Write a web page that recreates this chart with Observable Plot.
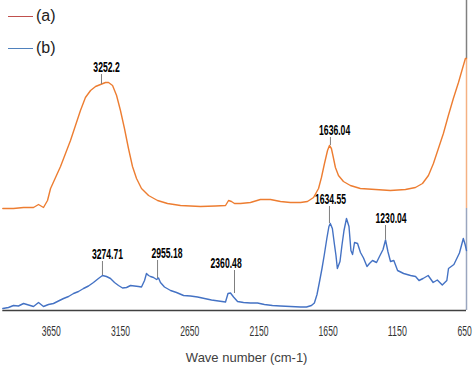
<!DOCTYPE html>
<html><head><meta charset="utf-8">
<script src="https://cdn.jsdelivr.net/npm/d3@7"></script>
<script src="https://cdn.jsdelivr.net/npm/@observablehq/plot@0.6"></script>
<style>
body{margin:0;background:#fff;}
#wrap{position:relative;width:474px;height:372px;overflow:hidden;}
.lg{position:absolute;left:8px;font-family:"Liberation Sans",Arial,sans-serif;font-size:16px;color:#222;display:flex;align-items:center;height:20px;}
.lg i{display:inline-block;width:25px;height:0;border-top:1.3px solid;margin-right:3px;}
</style></head>
<body><div id="wrap"></div>
<script>
const seriesNames = ["(a)", "(b)"];
const seriesColors = ["#ED7D31", "#4472C4"];
const legendColors = ["#C0504D", "#4F81BD"];

const waveA = [4000,3923,3850,3778,3742,3706,3677,3655,3619,3583,3547,3511,3475,3439,3403,3366,3330,3294,3258,3236,3207,3178,3150,3121,3092,3063,3034,2998,2947,2882,2810,2716,2572,2463,2391,2369,2348,2326,2283,2211,2139,2066,1994,1922,1849,1799,1755,1719,1698,1676,1654,1640,1626,1612,1597,1575,1539,1489,1417,1308,1200,1091,1019,968,925,889,853,817,781,745,708,679,658,650];
const absA = [102,102,103,103,106,103,110,122,133,144,157,170,185,200,213,220,224,226,228,228,225,215,200,182,162,144,132,122,115,110,107,105,104,104.5,105,110,109,107,107,108,111,111,109,108,108,109,113,122,133,147,160,165,162,153,143,135,129,125,122,121,120,121,123,127,135,147,162,177,195,212,228,242,252,252];

const waveB = [4000,3959,3923,3887,3850,3814,3778,3742,3706,3670,3634,3598,3561,3525,3489,3453,3417,3381,3345,3309,3280,3251,3222,3193,3164,3135,3106,3077,3049,3020,2998,2976,2962,2947,2933,2911,2889,2875,2861,2832,2788,2745,2694,2644,2593,2543,2492,2442,2391,2373,2355,2333,2304,2261,2211,2160,2110,2052,1994,1922,1849,1806,1770,1749,1730,1713,1694,1677,1659,1644,1634,1619,1605,1593,1583,1564,1550,1535,1517,1499,1485,1473,1459,1437,1416,1394,1369,1351,1329,1300,1275,1253,1235,1217,1199,1175,1148,1104,1054,1018,993,964,927,891,861,825,792,780,741,701,673,660,650];
const absB = [2,3,5,4.5,7,5.5,4,8,4,6,7,9.5,12,14,17,19,22,24.5,28,32,35,34,32,28,25,22.5,23,25,24.5,24,23.5,30,37,35,34,33,31,32.5,28,23.5,20,18,15,14.5,13.5,12,10.5,9.5,8.5,17,17.5,13.5,9,8,7.5,7.5,6,5,4.5,4,3.5,3.5,5,7.5,16,28,42,56,72,84,87,82,67,55,42,49,65,80,92,84,60,56,68,67,58,52.5,44,47,50,48,55,61,70.5,58.5,49,50,40,37,35,34,30,32,35,28,30.5,25.5,30,42,46,57.5,72,66,60];

const peakText = ["3252.2","1636.04","3274.71","2955.18","2360.48","1634.55","1230.04"];
const peakTickWave = [3287,1633,3280,2882,2326,1640,1235];
const peakTickBase = [226,165,35,32,17,87,70.5];
const peakLabelWave = [3251,1603,3244,2814,2387,1633,1195];
const peakLabelLevel = [243,180,56,57,47,111,92];

const xTicks = [3650,3150,2650,2150,1650,1150,650];
const xTitle = "Wave number (cm-1)";

const dataA = waveA.map((w,i)=>({w, v:absA[i]}));
const dataB = waveB.map((w,i)=>({w, v:absB[i]}));
const peaks = peakText.map((t,i)=>({t, tw:peakTickWave[i], base:peakTickBase[i], lw:peakLabelWave[i], lv:peakLabelLevel[i]}));
const endA = dataA[dataA.length-1], startA = dataA[0];

const narrow = "'Liberation Sans Narrow','Arial Narrow','Liberation Sans',sans-serif";

const chart = Plot.plot({
  width: 474, height: 372,
  marginLeft: 2.3, marginRight: 8, marginTop: 0, marginBottom: 62,
  style: {background: "#fff", overflow: "visible"},
  x: {domain: [4000, 650]},
  y: {domain: [0, 310], axis: null},
  marks: [
    Plot.ruleX([650], {y1: endA.v, y2: 310, stroke: "#808080", strokeWidth: 1.5}),
    Plot.ruleX([650], {y1: startA.v, y2: endA.v, stroke: "#F4B183", strokeWidth: 1.5}),
    Plot.ruleX([650], {y1: 0, y2: startA.v, stroke: "#9aa6bf", strokeWidth: 1.5}),
    Plot.line(dataA, {x: "w", y: "v", stroke: seriesColors[0], strokeWidth: 1.4}),
    Plot.line(dataB, {x: "w", y: "v", stroke: seriesColors[1], strokeWidth: 1.4}),
    Plot.ruleY([0], {stroke: "#404040", strokeWidth: 1.6}),
    Plot.ruleX(peaks, {x: "tw", y1: "base", y2: d => d.lv - 7, stroke: "#7f7f7f", strokeWidth: 1}),
    Plot.text(peaks, {x: "lw", y: "lv", text: "t", fontWeight: "bold", fontSize: 14, fontFamily: narrow, fill: "#000"}),
    Plot.axisX({ticks: xTicks, tickFormat: d => String(d), tickSize: 0, tickPadding: 16, fontSize: 14, fontFamily: narrow, fill: "#333", label: null}),
    Plot.text([xTitle], {frameAnchor: "bottom", dy: 51, dx: 12, fontSize: 13, fontFamily: "'Liberation Sans',Arial,sans-serif", fill: "#404040"})
  ]
});
document.getElementById("wrap").appendChild(chart);

// condense numeric labels to the narrow look of the original (horizontal scale about each label's centre)
function charW(c){ return c === "." ? 2.5 : 4.8; }
chart.querySelectorAll("text").forEach(t => {
  const s = t.textContent;
  if (/^[0-9.]+$/.test(s)) {
    const target = [...s].reduce((a,c)=>a+charW(c),0);
    const bb = t.getBBox();
    const sx = target / bb.width;
    const cx = bb.x + bb.width / 2;
    let shift = 0;
    if (s === String(xTicks[xTicks.length-1])) shift = -2;
    const prev = t.getAttribute("transform") || "";
    t.setAttribute("transform", `${prev} translate(${cx + shift},0) scale(${sx},1) translate(${-cx},0)`);
  }
});

// legend
seriesNames.forEach((n,i)=>{
  const d = document.createElement("div");
  d.className = "lg";
  d.style.top = (6 + i*32) + "px";
  d.innerHTML = `<i style="border-color:${legendColors[i]}"></i><span>${n}</span>`;
  document.getElementById("wrap").appendChild(d);
});
</script>
</body></html>
